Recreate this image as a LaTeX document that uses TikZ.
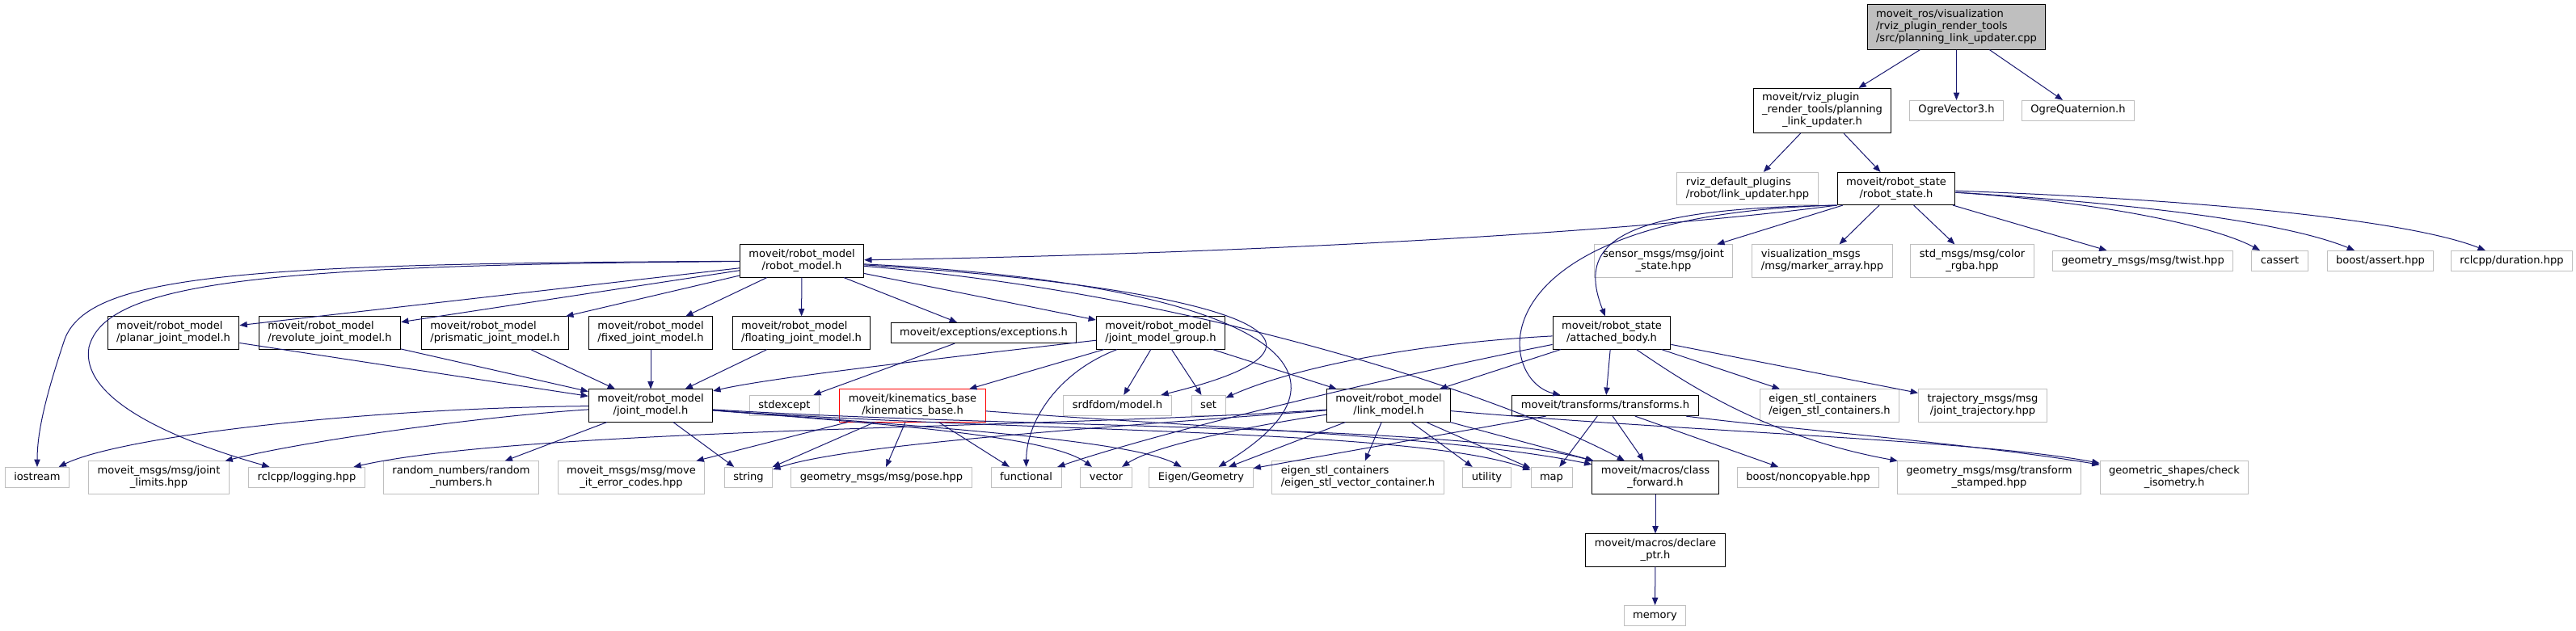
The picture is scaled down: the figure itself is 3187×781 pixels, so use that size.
\documentclass[tikz,border=0pt]{standalone}
\usepackage{fontspec}
\setmainfont{DejaVu Sans}
\usetikzlibrary{arrows.meta}
\definecolor{cEdge}{HTML}{191970}
\definecolor{cGris}{HTML}{BFBFBF}
\definecolor{cRojo}{HTML}{FF0000}
\newcommand{\grfont}{\fontsize{9.8}{11.25}\selectfont}
\newcommand{\oneln}[1]{\begin{tabular}{@{}l@{}}#1\end{tabular}}
\newcommand{\twoln}[2]{\begin{tabular}{@{}l@{}}#1\\\multicolumn{1}{@{}c@{}}{#2}\end{tabular}}
\newcommand{\threeln}[3]{\begin{tabular}{@{}l@{}}#1\\#2\\\multicolumn{1}{@{}c@{}}{#3}\end{tabular}}
\tikzset{
    x=0.75pt, y=-0.75pt,
    hdr/.style={draw=black, line width=0.75pt, fill=white, font=\grfont,
                inner xsep=8.25pt, inner ysep=3.8pt},
    sys/.style={hdr, draw=cGris},
    trunc/.style={hdr, draw=cRojo},
    src/.style={hdr, fill=cGris},
    dep/.style={-{Triangle[length=7pt, width=5.5pt]}, line width=0.75pt, cEdge},
}

\begin{document}
\begin{tikzpicture}
    \useasboundingbox (0,0) rectangle (3187,781);

    \node[src] (rt) at (2420.5,33.5)
        {\threeln{moveit\_ros/visualization}{/rviz\_plugin\_render\_tools}{/src/planning\_link\_updater.cpp}};

    \node[hdr] (plu) at (2254.5,137)
        {\threeln{moveit/rviz\_plugin}{\_render\_tools/planning}{\_link\_updater.h}};
    \node[sys] (ogv) at (2420.5,137) {\oneln{OgreVector3.h}};
    \node[sys] (ogq) at (2571,137) {\oneln{OgreQuaternion.h}};

    \node[sys] (rdp) at (2162,233.5) {\twoln{rviz\_default\_plugins}{/robot/link\_updater.hpp}};
    \node[hdr] (rs) at (2346,233.5) {\twoln{moveit/robot\_state}{/robot\_state.h}};

    \node[hdr] (rm) at (992,323) {\twoln{moveit/robot\_model}{/robot\_model.h}};
    \node[sys] (sjs) at (2058,323) {\twoln{sensor\_msgs/msg/joint}{\_state.hpp}};
    \node[sys] (vma) at (2254.5,323) {\twoln{visualization\_msgs}{/msg/marker\_array.hpp}};
    \node[sys] (scr) at (2440,323) {\twoln{std\_msgs/msg/color}{\_rgba.hpp}};
    \node[sys] (gtw) at (2651,323) {\oneln{geometry\_msgs/msg/twist.hpp}};
    \node[sys] (cas) at (2820.5,323) {\oneln{cassert}};
    \node[sys] (bas) at (2945,323) {\oneln{boost/assert.hpp}};
    \node[sys] (rdu) at (3107.5,323) {\oneln{rclcpp/duration.hpp}};

    \node[hdr] (pl) at (214.5,412) {\twoln{moveit/robot\_model}{/planar\_joint\_model.h}};
    \node[hdr] (rv) at (408,412) {\twoln{moveit/robot\_model}{/revolute\_joint\_model.h}};
    \node[hdr] (pr) at (612.5,412) {\twoln{moveit/robot\_model}{/prismatic\_joint\_model.h}};
    \node[hdr] (fx) at (805,412) {\twoln{moveit/robot\_model}{/fixed\_joint\_model.h}};
    \node[hdr] (fl) at (991.5,412) {\twoln{moveit/robot\_model}{/floating\_joint\_model.h}};
    \node[hdr] (ex) at (1217,412) {\oneln{moveit/exceptions/exceptions.h}};
    \node[hdr] (jmg) at (1436,412) {\twoln{moveit/robot\_model}{/joint\_model\_group.h}};
    \node[hdr] (ab) at (1994,412) {\twoln{moveit/robot\_state}{/attached\_body.h}};

    \node[hdr] (jm) at (805,502) {\twoln{moveit/robot\_model}{/joint\_model.h}};
    \node[sys] (se) at (970.5,502) {\oneln{stdexcept}};
    \node[trunc] (kb) at (1129,502) {\twoln{moveit/kinematics\_base}{/kinematics\_base.h}};
    \node[sys] (sd) at (1382.5,502) {\oneln{srdfdom/model.h}};
    \node[sys] (setn) at (1495,502) {\oneln{set}};
    \node[hdr] (lm) at (1718,502) {\twoln{moveit/robot\_model}{/link\_model.h}};
    \node[hdr] (tf) at (1986,502) {\oneln{moveit/transforms/transforms.h}};
    \node[sys] (esc) at (2263.5,502) {\twoln{eigen\_stl\_containers}{/eigen\_stl\_containers.h}};
    \node[sys] (tj) at (2453,502) {\twoln{trajectory\_msgs/msg}{/joint\_trajectory.hpp}};

    \node[sys] (io) at (46,591) {\oneln{iostream}};
    \node[sys] (jl) at (196.5,591) {\twoln{moveit\_msgs/msg/joint}{\_limits.hpp}};
    \node[sys] (lg) at (379.5,591) {\oneln{rclcpp/logging.hpp}};
    \node[sys] (rn) at (570.5,591) {\twoln{random\_numbers/random}{\_numbers.h}};
    \node[sys] (mec) at (781,591) {\twoln{moveit\_msgs/msg/move}{\_it\_error\_codes.hpp}};
    \node[sys] (str) at (926,591) {\oneln{string}};
    \node[sys] (ps) at (1090.5,591) {\oneln{geometry\_msgs/msg/pose.hpp}};
    \node[sys] (fn) at (1269.5,591) {\oneln{functional}};
    \node[sys] (vc) at (1368.5,591) {\oneln{vector}};
    \node[sys] (eg) at (1486,591) {\oneln{Eigen/Geometry}};
    \node[sys] (evc) at (1680,591) {\twoln{eigen\_stl\_containers}{/eigen\_stl\_vector\_container.h}};
    \node[sys] (ut) at (1839.5,591) {\oneln{utility}};
    \node[sys] (mp) at (1919.5,591) {\oneln{map}};
    \node[hdr] (cf) at (2048,591) {\twoln{moveit/macros/class}{\_forward.h}};
    \node[sys] (nc) at (2237,591) {\oneln{boost/noncopyable.hpp}};
    \node[sys] (tst) at (2461,591) {\twoln{geometry\_msgs/msg/transform}{\_stamped.hpp}};
    \node[sys] (ci) at (2690,591) {\twoln{geometric\_shapes/check}{\_isometry.h}};

    \node[hdr] (dp) at (2048,681) {\twoln{moveit/macros/declare}{\_ptr.h}};
    \node[sys] (mem) at (2047.5,762) {\oneln{memory}};

    \draw[dep] (rt) -- (plu);
    \draw[dep] (rt) -- (ogv);
    \draw[dep] (rt) -- (ogq);
    \draw[dep] (plu) -- (rdp);
    \draw[dep] (plu) -- (rs);

    \draw[dep] (rs) -- (sjs);
    \draw[dep] (rs) -- (vma);
    \draw[dep] (rs) -- (scr);
    \draw[dep] (rs) -- (gtw);
    \draw[dep] (rs) .. controls (2600,250) and (2740,280) .. (cas);
    \draw[dep] (rs) .. controls (2690,255) and (2840,280) .. (bas);
    \draw[dep] (rs) .. controls (2800,250) and (3000,280) .. (rdu);
    \draw[dep] (rs.south west) .. controls (2000,290) and (1500,315) .. (rm);
    \draw[dep] (rs.south west) .. controls (2000,258) and (1950,300) .. (ab);
    \draw[dep] (rs.south west) .. controls (1820,265) and (1850,470) .. (tf);

    \draw[dep] (rm) -- (pl);
    \draw[dep] (rm) -- (rv);
    \draw[dep] (rm) -- (pr);
    \draw[dep] (rm) -- (fx);
    \draw[dep] (rm) -- (fl);
    \draw[dep] (rm) -- (ex);
    \draw[dep] (rm) -- (jmg);
    \draw[dep] (rm) .. controls (1500,355) and (1720,420) .. (sd);
    \draw[dep] (rm) .. controls (1530,350) and (1720,450) .. (eg);
    \draw[dep] (rm) .. controls (1500,365) and (1880,500) .. (cf);
    \draw[dep] (rm) .. controls (300,326) and (110,340) .. (80,420)
        .. controls (60,480) and (46,530) .. (io);
    \draw[dep] (rm) .. controls (320,328) and (130,350) .. (110,430)
        .. controls (100,490) and (200,540) .. (lg);

    \draw[dep] (pl) -- (jm);
    \draw[dep] (rv) -- (jm);
    \draw[dep] (pr) -- (jm);
    \draw[dep] (fx) -- (jm);
    \draw[dep] (fl) -- (jm);
    \draw[dep] (ex) -- (se);

    \draw[dep] (jmg) .. controls (1150,445) and (950,468) .. (jm);
    \draw[dep] (jmg) -- (kb);
    \draw[dep] (jmg) .. controls (1310,460) and (1270,520) .. (fn);
    \draw[dep] (jmg) -- (sd);
    \draw[dep] (jmg) -- (setn);
    \draw[dep] (jmg) -- (lm);

    \draw[dep] (jm) .. controls (450,505) and (150,540) .. (io);
    \draw[dep] (jm) .. controls (600,515) and (380,545) .. (jl);
    \draw[dep] (jm) -- (rn);
    \draw[dep] (jm) -- (str);
    \draw[dep] (jm) .. controls (1100,525) and (1300,540) .. (vc);
    \draw[dep] (jm) .. controls (1150,528) and (1400,545) .. (eg);
    \draw[dep] (jm) .. controls (1250,535) and (1750,530) .. (mp);
    \draw[dep] (jm) .. controls (1250,530) and (1800,525) .. (cf);

    \draw[dep] (kb) -- (mec);
    \draw[dep] (kb) -- (str);
    \draw[dep] (kb) -- (ps);
    \draw[dep] (kb) -- (fn);
    \draw[dep] (kb) .. controls (1500,530) and (1800,540) .. (cf);

    \draw[dep] (ab) .. controls (1750,425) and (1600,455) .. (setn);
    \draw[dep] (ab) .. controls (1750,460) and (1450,530) .. (fn);
    \draw[dep] (ab) -- (lm);
    \draw[dep] (ab) -- (tf);
    \draw[dep] (ab) -- (esc);
    \draw[dep] (ab) -- (tj);
    \draw[dep] (ab) .. controls (2080,470) and (2180,540) .. (tst);

    \draw[dep] (lm) .. controls (1300,530) and (650,530) .. (lg);
    \draw[dep] (lm) .. controls (1350,530) and (1050,550) .. (str);
    \draw[dep] (lm) .. controls (1560,525) and (1430,550) .. (vc);
    \draw[dep] (lm) -- (eg);
    \draw[dep] (lm) -- (evc);
    \draw[dep] (lm) -- (ut);
    \draw[dep] (lm) -- (mp);
    \draw[dep] (lm) -- (cf);
    \draw[dep] (lm) .. controls (2100,535) and (2450,545) .. (ci);

    \draw[dep] (tf) -- (eg);
    \draw[dep] (tf) -- (mp);
    \draw[dep] (tf) -- (cf);
    \draw[dep] (tf) -- (nc);
    \draw[dep] (tf) .. controls (2200,530) and (2450,550) .. (ci);

    \draw[dep] (cf) -- (dp);
    \draw[dep] (dp) -- (mem);
\end{tikzpicture}
\end{document}
